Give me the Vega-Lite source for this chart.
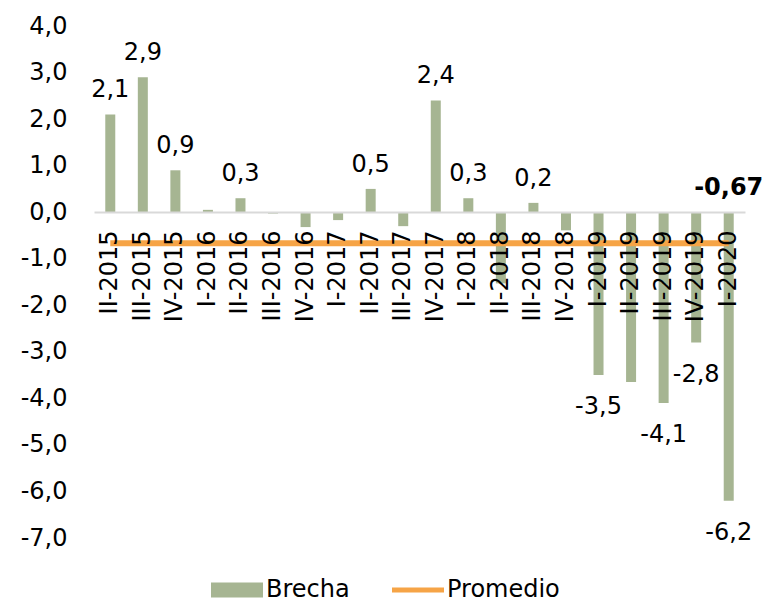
{
  "$schema": "https://vega.github.io/schema/vega-lite/v6.json",
  "width": 651,
  "height": 512,
  "autosize": {"type": "none"},
  "padding": {"left": 94, "top": 26, "right": 23, "bottom": 65},
  "config": {
    "font": "DejaVu Sans",
    "view": {"stroke": null},
    "locale": {"number": {"decimal": ",", "thousands": ".", "grouping": [3], "currency": ["", " €"], "minus": "-"}}
  },
  "data": {
    "values": [
      {"periodo": "II-2015", "brecha": 2.1, "promedio": -0.67, "etiqueta": true},
      {"periodo": "III-2015", "brecha": 2.9, "promedio": -0.67, "etiqueta": true},
      {"periodo": "IV-2015", "brecha": 0.9, "promedio": -0.67, "etiqueta": true},
      {"periodo": "I-2016", "brecha": 0.05, "promedio": -0.67, "etiqueta": false},
      {"periodo": "II-2016", "brecha": 0.3, "promedio": -0.67, "etiqueta": true},
      {"periodo": "III-2016", "brecha": -0.03, "promedio": -0.67, "etiqueta": false},
      {"periodo": "IV-2016", "brecha": -0.32, "promedio": -0.67, "etiqueta": false},
      {"periodo": "I-2017", "brecha": -0.17, "promedio": -0.67, "etiqueta": false},
      {"periodo": "II-2017", "brecha": 0.5, "promedio": -0.67, "etiqueta": true},
      {"periodo": "III-2017", "brecha": -0.3, "promedio": -0.67, "etiqueta": false},
      {"periodo": "IV-2017", "brecha": 2.4, "promedio": -0.67, "etiqueta": true},
      {"periodo": "I-2018", "brecha": 0.3, "promedio": -0.67, "etiqueta": true},
      {"periodo": "II-2018", "brecha": -1.53, "promedio": -0.67, "etiqueta": false},
      {"periodo": "III-2018", "brecha": 0.2, "promedio": -0.67, "etiqueta": true},
      {"periodo": "IV-2018", "brecha": -0.39, "promedio": -0.67, "etiqueta": false},
      {"periodo": "I-2019", "brecha": -3.5, "promedio": -0.67, "etiqueta": true},
      {"periodo": "II-2019", "brecha": -3.65, "promedio": -0.67, "etiqueta": false},
      {"periodo": "III-2019", "brecha": -4.1, "promedio": -0.67, "etiqueta": true},
      {"periodo": "IV-2019", "brecha": -2.8, "promedio": -0.67, "etiqueta": true},
      {"periodo": "I-2020", "brecha": -6.2, "promedio": -0.67, "etiqueta": true}
    ]
  },
  "encoding": {
    "x": {
      "field": "periodo",
      "type": "nominal",
      "sort": null,
      "scale": {"paddingInner": 0, "paddingOuter": 0},
      "axis": {
        "title": null,
        "orient": "bottom",
        "offset": -326,
        "labelAngle": -90,
        "labelFontSize": 24,
        "labelColor": "#000000",
        "labelPadding": 18,
        "ticks": false,
        "domainColor": "#d9d9d9",
        "domainWidth": 2,
        "zindex": 1
      }
    }
  },
  "layer": [
    {
      "mark": {"type": "bar", "size": 10},
      "encoding": {
        "y": {
          "field": "brecha",
          "type": "quantitative",
          "scale": {"domain": [-7, 4], "nice": false},
          "axis": {
            "title": null,
            "grid": false,
            "domain": false,
            "ticks": false,
            "values": [-7, -6, -5, -4, -3, -2, -1, 0, 1, 2, 3, 4],
            "format": ".1f",
            "labelFontSize": 24,
            "labelColor": "#000000",
            "labelPadding": 27
          }
        },
        "color": {
          "datum": "Brecha",
          "scale": {"domain": ["Brecha", "Promedio"], "range": ["#a6b592", "#f6a446"]},
          "legend": {
            "title": null,
            "orient": "none",
            "direction": "horizontal",
            "legendX": 131,
            "legendY": 552,
            "labelFontSize": 24,
            "labelColor": "#000000",
            "symbolSize": 2704,
            "labelOffset": 17,
            "columnPadding": 32,
            "encode": {
              "symbols": {
                "update": {
                  "shape": {"signal": "datum.value === 'Brecha' ? 'M-1,-0.29H1V0.29H-1Z' : 'M-1,0H1'"},
                  "fill": {"signal": "datum.value === 'Brecha' ? '#a6b592' : 'transparent'"},
                  "stroke": {"signal": "datum.value === 'Brecha' ? 'transparent' : '#f6a446'"},
                  "strokeWidth": {"signal": "datum.value === 'Brecha' ? 0 : 5"},
                  "opacity": {"value": 1}
                }
              }
            }
          }
        }
      }
    },
    {
      "mark": {"type": "line", "strokeWidth": 6},
      "encoding": {
        "y": {"field": "promedio", "type": "quantitative"},
        "color": {"datum": "Promedio"}
      }
    },
    {
      "transform": [{"filter": "datum.etiqueta && datum.brecha > 0"}],
      "mark": {"type": "text", "baseline": "alphabetic", "dy": -17, "fontSize": 24, "color": "#000000"},
      "encoding": {
        "y": {"field": "brecha", "type": "quantitative"},
        "text": {"field": "brecha", "type": "quantitative", "format": ".1f"}
      }
    },
    {
      "transform": [{"filter": "datum.etiqueta && datum.brecha < 0"}],
      "mark": {"type": "text", "baseline": "alphabetic", "dy": 39, "fontSize": 24, "color": "#000000"},
      "encoding": {
        "y": {"field": "brecha", "type": "quantitative"},
        "text": {"field": "brecha", "type": "quantitative", "format": ".1f"}
      }
    },
    {
      "transform": [{"filter": "datum.periodo === 'I-2020'"}],
      "mark": {"type": "text", "baseline": "alphabetic", "dy": -48, "fontSize": 24, "fontWeight": "bold", "color": "#000000"},
      "encoding": {
        "y": {"field": "promedio", "type": "quantitative"},
        "text": {"field": "promedio", "type": "quantitative", "format": ".2f"}
      }
    }
  ]
}
